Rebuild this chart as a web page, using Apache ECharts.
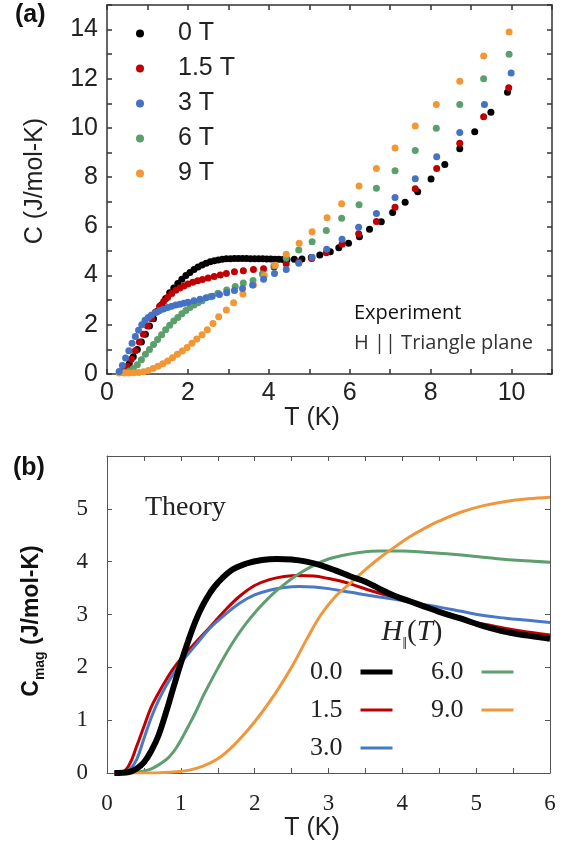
<!DOCTYPE html>
<html>
<head>
<meta charset="utf-8">
<script src="https://cdn.jsdelivr.net/npm/echarts@6/dist/echarts.min.js"></script>
<style>
  html, body { margin: 0; padding: 0; background: #fff; }
  #chart { width: 570px; height: 850px; }
</style>
</head>
<body>
<div id="chart"></div>
<script>
// (a) experiment: C (J/mol-K) vs T (K), one dot series per field
const expNames = ['0 T', '1.5 T', '3 T', '6 T', '9 T'];
const expColors = ['#000000', '#c00000', '#4472c4', '#5b9f6d', '#f39634'];

const expT0 = [0.35,0.45,0.55,0.65,0.75,0.85,0.95,1.05,1.15,1.25,1.35,1.45,1.55,1.65,1.75,1.85,1.95,2.05,2.15,2.25,
  2.35,2.45,2.55,2.65,2.75,2.85,2.95,3.05,3.15,3.25,3.35,3.45,3.55,3.65,3.75,3.85,3.95,4.05,4.15,4.25,
  4.35,4.45,4.63,4.82,5.05,5.26,5.52,5.73,5.97,6.24,6.49,6.78,7.06,7.37,7.68,8.01,8.35,8.72,9.09,9.49,9.90];
const expC0 = [0.08,0.2,0.42,0.7,1.0,1.3,1.62,1.95,2.25,2.55,2.82,3.07,3.3,3.5,3.68,3.85,4.0,4.13,4.25,4.35,
  4.43,4.5,4.56,4.6,4.63,4.66,4.68,4.69,4.7,4.7,4.7,4.7,4.69,4.69,4.68,4.68,4.67,4.67,4.66,4.66,
  4.65,4.65,4.66,4.67,4.74,4.84,4.97,5.13,5.31,5.58,5.88,6.19,6.56,6.98,7.41,7.93,8.52,9.16,9.85,10.64,11.45];

const expT15 = [0.4,0.5,0.6,0.7,0.8,0.9,1.0,1.1,1.2,1.3,1.4,1.5,1.6,1.7,1.8,1.9,2.0,2.12,2.24,2.36,
  2.5,2.65,2.8,2.95,3.15,3.37,3.62,3.87,4.13,4.43,4.74,5.06,5.42,5.81,6.22,6.66,7.12,7.62,8.15,8.72,9.31,9.93];
const expC15 = [0.1,0.3,0.6,0.95,1.3,1.62,1.95,2.25,2.52,2.75,2.95,3.12,3.27,3.4,3.5,3.58,3.66,3.73,3.79,3.84,
  3.9,3.96,4.02,4.09,4.16,4.2,4.25,4.28,4.35,4.48,4.55,4.7,4.93,5.27,5.7,6.2,6.78,7.53,8.35,9.38,10.46,11.64];

const expT3 = [0.3,0.38,0.46,0.54,0.62,0.7,0.78,0.86,0.94,1.02,1.1,1.2,1.3,1.4,1.5,1.6,1.7,1.8,1.9,2.0,
  2.15,2.3,2.45,2.6,2.78,2.96,3.15,3.35,3.6,3.87,4.14,4.43,4.74,5.07,5.43,5.81,6.22,6.66,7.12,7.62,8.15,8.72,9.33,9.99];
const expC3 = [0.1,0.35,0.65,0.95,1.25,1.52,1.78,2.0,2.18,2.3,2.4,2.5,2.58,2.64,2.7,2.75,2.8,2.84,2.88,2.92,
  2.98,3.04,3.1,3.16,3.23,3.3,3.39,3.48,3.62,3.85,4.09,4.25,4.5,4.75,5.07,5.48,5.97,6.52,7.17,7.94,8.83,9.82,10.96,12.24];

const expT6 = [0.45,0.55,0.65,0.75,0.85,0.95,1.05,1.15,1.25,1.35,1.45,1.55,1.65,1.75,1.85,1.95,2.05,2.15,2.25,2.35,
  2.55,2.74,2.96,3.17,3.37,3.61,3.84,4.13,4.43,4.74,5.07,5.42,5.80,6.23,6.66,7.12,7.62,8.14,8.72,9.31,9.94];
const expC6 = [0.06,0.12,0.22,0.38,0.58,0.8,1.0,1.2,1.4,1.6,1.8,1.98,2.15,2.3,2.45,2.58,2.7,2.8,2.9,2.98,
  3.14,3.28,3.41,3.56,3.70,3.80,4.07,4.40,4.72,5.04,5.38,5.83,6.33,6.88,7.55,8.26,9.09,9.99,10.96,12.0,13.0];

const expT9 = [0.3,0.42,0.54,0.66,0.78,0.9,1.02,1.14,1.26,1.38,1.5,1.62,1.74,1.86,1.98,2.1,2.22,2.35,2.48,2.62,
  2.76,2.95,3.13,3.36,3.62,3.89,4.16,4.43,4.75,5.07,5.44,5.80,6.23,6.66,7.12,7.62,8.14,8.72,9.31,9.94];
const expC9 = [0.04,0.04,0.04,0.05,0.06,0.09,0.14,0.22,0.32,0.42,0.53,0.66,0.8,0.94,1.08,1.25,1.42,1.6,1.8,2.05,
  2.33,2.60,2.90,3.25,3.62,4.0,4.42,4.87,5.31,5.78,6.35,6.92,7.64,8.35,9.19,10.08,10.96,11.9,12.93,13.9];

// (b) theory: C_mag vs T (K), one curve per field H||
const thNames = ['0.0', '1.5', '3.0', '6.0', '9.0'];
const thColors = ['#000000', '#c00000', '#4a78c6', '#5f9e6e', '#f0963c'];

const thT0 = [0.1,0.3,0.4,0.5,0.6,0.7,0.8,0.9,1.0,1.1,1.2,1.3,1.4,1.5,1.7,1.9,2.1,2.3,2.5,2.7,
  2.9,3.1,3.3,3.5,3.7,3.9,4.1,4.3,4.5,4.8,5.1,5.4,5.7,6.0];
const thC0 = [0,0.02,0.08,0.2,0.42,0.72,1.15,1.62,2.08,2.5,2.88,3.18,3.42,3.6,3.85,3.97,4.03,4.05,4.04,4.0,
  3.93,3.83,3.72,3.62,3.48,3.35,3.25,3.15,3.05,2.92,2.78,2.67,2.6,2.54];

const thT15 = [0.1,0.2,0.3,0.4,0.5,0.6,0.7,0.8,0.9,1.0,1.2,1.4,1.6,1.8,2.0,2.2,2.4,2.6,2.8,3.0,
  3.2,3.4,3.6,3.8,4.0,4.3,4.6,4.9,5.2,5.5,5.8,6.0];
const thC15 = [0,0.01,0.15,0.5,0.88,1.25,1.52,1.76,1.98,2.16,2.47,2.77,3.08,3.35,3.55,3.66,3.72,3.74,3.73,3.68,
  3.62,3.53,3.44,3.36,3.29,3.15,3.0,2.88,2.79,2.71,2.65,2.61];

const thT3 = [0.1,0.2,0.3,0.4,0.5,0.6,0.7,0.8,0.9,1.0,1.2,1.4,1.6,1.8,2.0,2.2,2.4,2.6,2.8,3.0,
  3.3,3.6,3.9,4.2,4.5,4.8,5.1,5.4,5.7,6.0];
const thC3 = [0,0.01,0.06,0.25,0.65,1.05,1.38,1.65,1.88,2.08,2.42,2.75,3.0,3.22,3.37,3.46,3.51,3.53,3.52,3.49,
  3.42,3.35,3.29,3.21,3.14,3.06,2.98,2.93,2.89,2.85];

const thT6 = [0.1,0.4,0.6,0.8,0.9,1.0,1.1,1.2,1.3,1.4,1.5,1.6,1.7,1.8,1.9,2.0,2.2,2.4,2.6,2.8,
  3.0,3.2,3.4,3.7,4.0,4.3,4.6,5.0,5.5,6.0];
const thC6 = [0,0.02,0.08,0.25,0.4,0.62,0.88,1.15,1.45,1.72,1.98,2.23,2.46,2.67,2.86,3.03,3.33,3.57,3.77,3.93,
  4.05,4.12,4.17,4.2,4.2,4.18,4.15,4.1,4.03,3.99];

const thT9 = [0.1,0.6,0.9,1.1,1.3,1.5,1.7,1.9,2.1,2.3,2.5,2.7,2.9,3.1,3.3,3.5,3.7,3.9,4.1,4.3,
  4.5,4.8,5.1,5.4,5.7,6.0];
const thC9 = [0,0,0.02,0.05,0.13,0.27,0.5,0.8,1.15,1.55,2.0,2.52,3.0,3.35,3.6,3.85,4.08,4.28,4.47,4.63,
  4.77,4.94,5.06,5.14,5.19,5.22];

const expT = [expT0, expT15, expT3, expT6, expT9];
const expC = [expC0, expC15, expC3, expC6, expC9];
const thT = [thT0, thT15, thT3, thT6, thT9];
const thC = [thC0, thC15, thC3, thC6, thC9];

const pairs = (ts, cs) => ts.map((t, i) => [t, cs[i]]);

const SANS = 'Liberation Sans';
const SERIF = 'Liberation Serif';

function valueAxis(grid, pos, min, max, step, color, width, label) {
  return {
    type: 'value', gridIndex: grid, position: pos, min: min, max: max, interval: step,
    axisLine: { show: true, onZero: false, lineStyle: { color: color, width: width } },
    axisTick: { show: true, inside: true, length: 5, lineStyle: { color: color, width: width } },
    axisLabel: label ? label : { show: false },
    splitLine: { show: false }
  };
}

const labelA = (fmt, margin) => ({
  formatter: fmt, margin: margin, fontFamily: SANS, fontSize: 25, color: '#222'
});
const labelB = (fmt, margin) => ({
  formatter: fmt, margin: margin, fontFamily: SERIF, fontSize: 23, color: '#222'
});

const series = [];
// dots: draw black first so the coloured ones sit on top
[0, 1, 3, 4, 2].forEach(i => {
  series.push({
    type: 'scatter', name: expNames[i], xAxisIndex: 0, yAxisIndex: 0,
    data: pairs(expT[i], expC[i]), symbol: 'circle', symbolSize: 7,
    itemStyle: { color: expColors[i], opacity: 1 }, emphasis: { disabled: true }
  });
});
[1, 2, 3, 4, 0].forEach(i => {
  series.push({
    type: 'line', name: thNames[i], xAxisIndex: 2, yAxisIndex: 2,
    data: pairs(thT[i], thC[i]), showSymbol: false, symbol: 'none', smooth: 0.4,
    lineStyle: { color: thColors[i], width: i === 0 ? 6 : 3 },
    itemStyle: { color: thColors[i] }, emphasis: { disabled: true }
  });
});

// legend entries in (b) are plain line segments, no marker
const legendLine = (name, i) => ({
  name: name,
  lineStyle: { width: i === 0 ? 5 : 3, color: thColors[i] },
  itemStyle: { opacity: 0 }
});

const option = {
  animation: false,
  backgroundColor: '#fff',
  grid: [
    { left: 107, right: 18, top: 5, bottom: 476, containLabel: false, outerBoundsMode: 'none' },
    { left: 107, right: 20, top: 456, bottom: 77, containLabel: false, outerBoundsMode: 'none' }
  ],
  xAxis: [
    valueAxis(0, 'bottom', 0, 11, 1, '#333', 1.5, labelA(v => (v % 2 === 0 && v <= 10) ? String(v) : '', 7)),
    valueAxis(0, 'top', 0, 11, 1, '#333', 1.5),
    valueAxis(1, 'bottom', 0, 6, 0.5, '#555', 1, labelB(v => Number.isInteger(v) ? String(v) : '', 19)),
    valueAxis(1, 'top', 0, 6, 0.5, '#555', 1)
  ],
  yAxis: [
    valueAxis(0, 'left', 0, 15, 1, '#333', 1.5, labelA(v => (v % 2 === 0 && v <= 14) ? String(v) : '', 9)),
    valueAxis(0, 'right', 0, 15, 1, '#333', 1.5),
    valueAxis(1, 'left', 0, 6, 1, '#555', 1, labelB(v => v <= 5 ? String(v) : '', 19)),
    valueAxis(1, 'right', 0, 6, 1, '#555', 1)
  ],
  legend: [
    {
      data: expNames, orient: 'vertical', left: 136, top: 21, padding: 0,
      itemWidth: 8, itemHeight: 8, itemGap: 10, icon: 'circle', selectedMode: false,
      textStyle: { fontFamily: SANS, fontSize: 25, lineHeight: 25, color: '#222', padding: [0, 0, 0, 29] }
    },
    {
      data: thNames.slice(0, 3).map((n, i) => legendLine(n, i)),
      orient: 'vertical', align: 'right', right: 175, top: 659, padding: 0,
      itemWidth: 32, itemHeight: 14, itemGap: 12, selectedMode: false,
      textStyle: { fontFamily: SERIF, fontSize: 26, lineHeight: 26, color: '#222', padding: [0, 13, 0, 0] }
    },
    {
      data: thNames.slice(3).map((n, i) => legendLine(n, i + 3)),
      orient: 'vertical', align: 'right', right: 55, top: 659, padding: 0,
      itemWidth: 32, itemHeight: 14, itemGap: 12, selectedMode: false,
      textStyle: { fontFamily: SERIF, fontSize: 26, lineHeight: 26, color: '#222', padding: [0, 13, 0, 0] }
    }
  ],
  graphic: [
    { type: 'text', x: 15, y: 15, style: { text: '(a)', font: 'bold 25px "Liberation Sans"', fill: '#111', verticalAlign: 'middle' } },
    { type: 'text', x: 13, y: 468, style: { text: '(b)', font: 'bold 25px "Liberation Sans"', fill: '#111', verticalAlign: 'middle' } },
    { type: 'text', x: 312, y: 418, style: { text: 'T (K)', font: '25px "Liberation Sans"', fill: '#222', align: 'center', verticalAlign: 'middle' } },
    { type: 'text', x: 312, y: 828, style: { text: 'T (K)', font: '25px "Liberation Sans"', fill: '#222', align: 'center', verticalAlign: 'middle' } },
    { type: 'text', x: 35, y: 181, rotation: Math.PI / 2,
      style: { text: 'C (J/mol-K)', font: '25px "Liberation Sans"', fill: '#222', align: 'center', verticalAlign: 'middle' } },
    { type: 'text', x: 36, y: 621, rotation: Math.PI / 2,
      style: {
        text: '{b|C}{s|mag}{b| (J/mol-K)}', align: 'center', verticalAlign: 'middle',
        rich: {
          b: { fontFamily: SANS, fontWeight: 'bold', fontSize: 23, lineHeight: 23, padding: [0, 0, 4, 0], verticalAlign: 'bottom', fill: '#111' },
          s: { fontFamily: SANS, fontWeight: 'bold', fontSize: 14, lineHeight: 14, verticalAlign: 'bottom', fill: '#111' }
        }
      } },
    { type: 'text', x: 145, y: 508, style: { text: 'Theory', font: '28px "Liberation Serif"', fill: '#222', verticalAlign: 'middle' } },
    { type: 'text', x: 354, y: 313, style: { text: 'Experiment', font: '20px "Open Sans"', fill: '#111', verticalAlign: 'middle' } },
    { type: 'text', x: 354, y: 343, style: { text: 'H || Triangle plane', font: '20px "Open Sans"', fill: '#333', verticalAlign: 'middle' } },
    { type: 'text', x: 412, y: 638,
      style: {
        text: '{i|H}{s|‖}{n|(}{i|T}{n|)}', align: 'center', verticalAlign: 'middle',
        rich: {
          i: { fontFamily: SERIF, fontStyle: 'italic', fontSize: 29, lineHeight: 29, padding: [0, 0, 6, 0], verticalAlign: 'bottom', fill: '#222' },
          n: { fontFamily: SERIF, fontSize: 29, lineHeight: 29, padding: [0, 0, 6, 0], verticalAlign: 'bottom', fill: '#222' },
          s: { fontFamily: SERIF, fontSize: 16, lineHeight: 16, verticalAlign: 'bottom', fill: '#222' }
        }
      } }
  ],
  series: series
};

const chart = echarts.init(document.getElementById('chart'), null, { renderer: 'canvas' });
chart.setOption(option);
</script>
</body>
</html>
